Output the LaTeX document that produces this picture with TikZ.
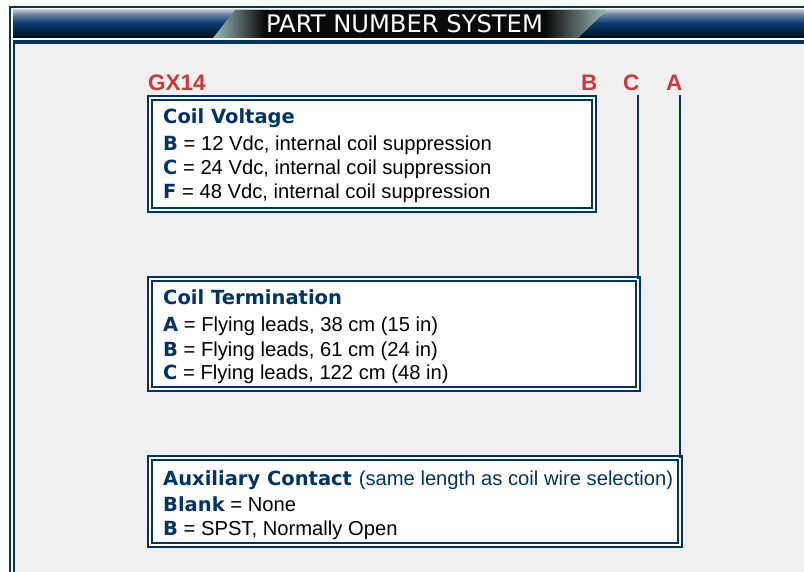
\documentclass[tikz,border=0pt]{standalone}
\usepackage{fontspec}
\setmainfont{Liberation Sans}
\newfontfamily\headfont{DejaVu Sans}

\definecolor{navy}{HTML}{003366}
\definecolor{partred}{HTML}{D03636}
\definecolor{panelgray}{HTML}{F0F0F0}
\definecolor{hdrbot}{HTML}{000810}
\definecolor{hdrdark}{HTML}{02223F}
\definecolor{hdrmid}{HTML}{0B3C6E}
\definecolor{hdrupper}{HTML}{5D7C9E}
\definecolor{hdrtop}{HTML}{B4C2D0}
\definecolor{platelight}{HTML}{9CBDBA}
\definecolor{plateblack}{HTML}{0A0A0A}

\pgfdeclareverticalshading{hdrbar}{100bp}{color(0bp)=(hdrbot); color(25bp)=(hdrbot);
  color(36bp)=(hdrdark); color(52bp)=(hdrmid); color(66bp)=(hdrupper);
  color(75bp)=(hdrtop); color(100bp)=(hdrtop)}

\newcommand{\pnopt}[1]{\textcolor{navy}{\headfont\bfseries\fontsize{19.5}{23}\selectfont #1}}

\tikzset{
  panel/.style={draw=navy, double=white, line width=2pt, double distance=2pt,
    fill=white, inner sep=0pt, outer sep=0pt, anchor=north west},
  head/.style={anchor=base west, inner sep=0pt, text=navy,
    font=\headfont\bfseries\fontsize{19.5}{23}\selectfont},
  item/.style={anchor=base west, inner sep=0pt, font=\fontsize{20.2}{23}\selectfont},
  pn/.style={anchor=base west, inner sep=0pt, text=partred,
    font=\bfseries\fontsize{22.5}{26}\selectfont},
  wire/.style={draw=navy, line width=2.5pt},
  title/.style={anchor=base, inner sep=0pt, text=white,
    font=\headfont\fontsize{24.2}{26}\selectfont}
}

\begin{document}
\begin{tikzpicture}[x=1pt, y=-1pt]
  \useasboundingbox (0,0) rectangle (804,572);
  \fill[white] (0,0) rectangle (804,572);

  % Outer frame and header bar
  \draw[navy, line width=2pt] (9.5,572) -- (9.5,7) -- (804,7);
  \shade[shading=hdrbar] (13,10) rectangle (804,38);
  \shade[left color=platelight, right color=plateblack]
    (213,38) -- (235,10) -- (265,10) -- (265,38) -- cycle;
  \fill[plateblack] (265,10) rectangle (545,38);
  \shade[left color=plateblack, right color=platelight]
    (545,38) -- (545,10) -- (607,10) -- (578,38) -- cycle;
  \node[title] (title) at (404.5,33) {PART NUMBER SYSTEM};

  % Content panel
  \fill[navy] (12.5,40) rectangle (804,44);
  \fill[navy] (12.5,40) rectangle (14.5,572);
  \fill[panelgray] (14.5,44) rectangle (804,572);

  % Part number letters
  \node[pn] (gx) at (148,91) {GX14};
  \node[pn] (pB) at (581,91) {B};
  \node[pn] (pC) at (623,91) {C};
  \node[pn] (pA) at (666,91) {A};

  % Boxes
  \node[panel, minimum width=444pt, minimum height=112pt] (volt) at (150,98) {};
  \node[panel, minimum width=488pt, minimum height=110pt] (term) at (150,279) {};
  \node[panel, minimum width=530pt, minimum height=87pt] (aux) at (150,458) {};

  % Leader lines
  \coordinate (ctop) at (term.north east |- 0,95);
  \coordinate (atop) at (aux.north east |- 0,95);
  \draw[wire] (ctop) -- (term.north east);
  \draw[wire] (atop) -- (aux.north east);

  % Coil voltage
  \node[head] (vhead) at ([shift={(13,26)}]volt.north west) {Coil Voltage};
  \node[item] (v1) at ([shift={(13,53)}]volt.north west) {\pnopt{B} = 12 Vdc, internal coil suppression};
  \node[item] (v2) at ([shift={(13,77)}]volt.north west) {\pnopt{C} = 24 Vdc, internal coil suppression};
  \node[item] (v3) at ([shift={(13,101)}]volt.north west) {\pnopt{F} = 48 Vdc, internal coil suppression};

  % Coil termination
  \node[head] (thead) at ([shift={(13,26)}]term.north west) {Coil Termination};
  \node[item] (t1) at ([shift={(13,53)}]term.north west) {\pnopt{A} = Flying leads, 38 cm (15 in)};
  \node[item] (t2) at ([shift={(13,77)}]term.north west) {\pnopt{B} = Flying leads, 61 cm (24 in)};
  \node[item] (t3) at ([shift={(13,101)}]term.north west) {\pnopt{C} = Flying leads, 122 cm (48 in)};

  % Auxiliary contact
  \node[head] (ahead) at ([shift={(13,27)}]aux.north west)
    {Auxiliary Contact {\normalfont\fontsize{20.2}{23}\selectfont (same length as coil wire selection)}};
  \node[item] (a1) at ([shift={(13,53)}]aux.north west) {\pnopt{Blank} = None};
  \node[item] (a2) at ([shift={(13,77)}]aux.north west) {\pnopt{B} = SPST, Normally Open};
\end{tikzpicture}
\end{document}
